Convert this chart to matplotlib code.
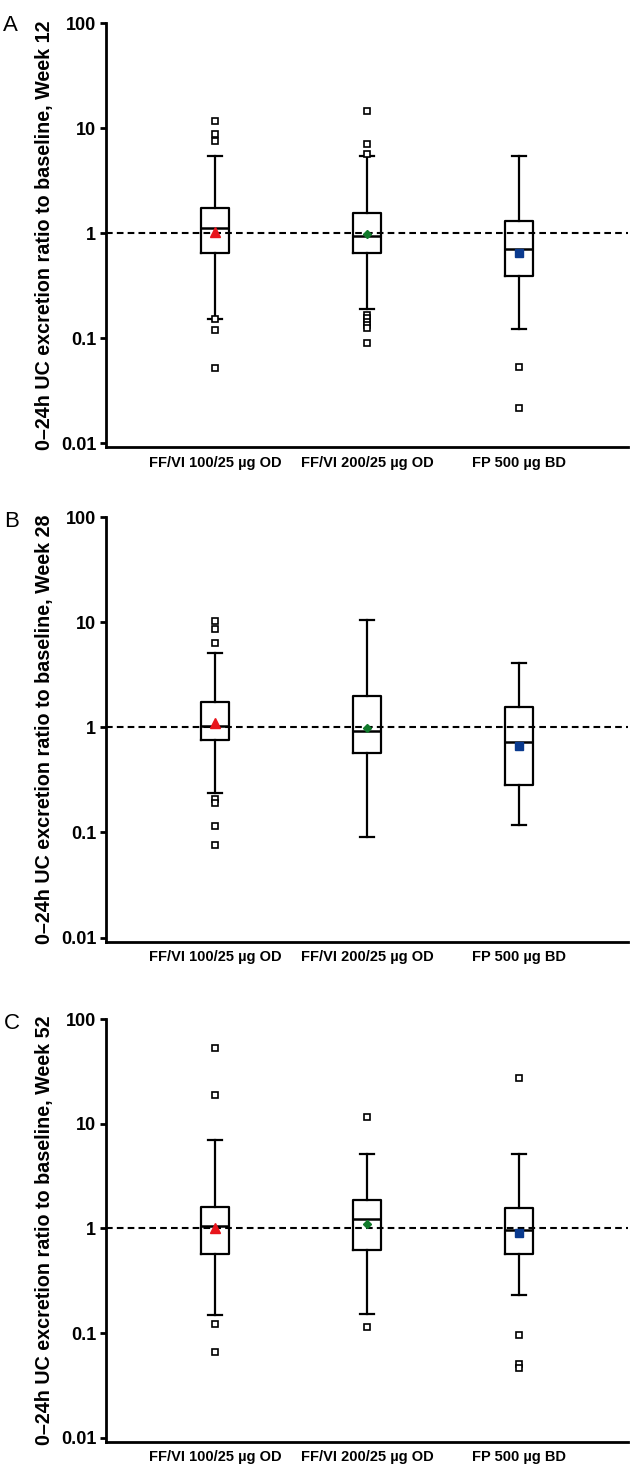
"""
0-24h urinary cortisol excretion ratio to baseline, box plots at weeks 12, 28, 52
"""
import matplotlib
matplotlib.use("Agg")
import matplotlib.pyplot as plt

#################### Data ##################
groups = ["FF/VI 100/25 µg OD", "FF/VI 200/25 µg OD", "FP 500 µg BD"]
weeks = ["Week 12", "Week 28", "Week 52"]
panel_letters = ["A", "B", "C"]

# week 12
wk12_lo = [0.152, 0.191, 0.122]
wk12_q1 = [0.653, 0.653, 0.395]
wk12_med = [1.12, 0.949, 0.705]
wk12_q3 = [1.75, 1.57, 1.30]
wk12_hi = [5.45, 5.45, 5.45]
wk12_mean = [1.035, 0.99, 0.653]
wk12_out = [
    [11.7, 8.88, 7.57, 0.152, 0.12, 0.0518],
    [14.6, 7.13, 5.73, 0.167, 0.155, 0.144, 0.134, 0.125, 0.0908],
    [0.053, 0.0215],
]

# week 28
wk28_lo = [0.239, 0.0906, 0.118]
wk28_q1 = [0.76, 0.568, 0.283]
wk28_med = [1.03, 0.933, 0.733]
wk28_q3 = [1.76, 2.0, 1.57]
wk28_hi = [5.09, 10.5, 4.09]
wk28_mean = [1.11, 0.98, 0.667]
wk28_out = [
    [10.2, 8.61, 6.42, 0.21, 0.192, 0.115, 0.0755],
    [],
    [],
]

# week 52
wk52_lo = [0.15, 0.153, 0.232]
wk52_q1 = [0.575, 0.624, 0.567]
wk52_med = [1.05, 1.22, 0.96]
wk52_q3 = [1.59, 1.88, 1.56]
wk52_hi = [6.99, 5.17, 5.17]
wk52_mean = [1.01, 1.11, 0.90]
wk52_out = [
    [53.1, 18.7, 0.122, 0.0659],
    [11.7, 0.115],
    [27.1, 0.0948, 0.0506, 0.0463],
]

mean_markers = ["^", "D", "s"]
mean_colors = ["#e8141b", "#117a2b", "#0a3a8e"]
mean_sizes = [6.5, 4.5, 5.5]

yticks = [0.01, 0.1, 1, 10, 100]
yticklabels = ["0.01", "0.1", "1", "10", "100"]

panels = [
    (wk12_lo, wk12_q1, wk12_med, wk12_q3, wk12_hi, wk12_mean, wk12_out),
    (wk28_lo, wk28_q1, wk28_med, wk28_q3, wk28_hi, wk28_mean, wk28_out),
    (wk52_lo, wk52_q1, wk52_med, wk52_q3, wk52_hi, wk52_mean, wk52_out),
]

#################### Plot ##################
plt.rcParams['font.family'] = ['Liberation Sans', 'DejaVu Sans']

W, H = 632, 1466
fig = plt.figure(figsize=(W / 100, H / 100), dpi=100)

# axes rectangles in pixels: (top of axes, bottom of axes)
ax_px = [(23.3, 447.3), (517.3, 941.5), (1019.0, 1441.7)]
letter_px = [(3, 15), (4, 511), (4, 1013)]
ax_left, ax_right = 106, 628

for k, (lo, q1, med, q3, hi, mn, out) in enumerate(panels):
    top, bot = ax_px[k]
    ax = fig.add_axes([ax_left / W, 1 - bot / H, (ax_right - ax_left) / W, (bot - top) / H])

    stats = []
    for i in range(len(groups)):
        stats.append(dict(
            med=med[i], q1=q1[i], q3=q3[i],
            whislo=lo[i], whishi=hi[i],
            fliers=out[i], label=groups[i],
        ))

    ax.bxp(
        stats,
        positions=[1, 2, 3],
        widths=0.19,
        capwidths=0.095,
        showfliers=True,
        boxprops=dict(color='black', linewidth=1.6),
        whiskerprops=dict(color='black', linewidth=1.6),
        capprops=dict(color='black', linewidth=1.6),
        medianprops=dict(color='black', linewidth=1.8),
        flierprops=dict(marker='s', markersize=4.2, markerfacecolor='white',
                        markeredgecolor='black', markeredgewidth=1.2),
        zorder=3,
    )

    for i in range(len(groups)):
        ax.plot(i + 1, mn[i], marker=mean_markers[i], color=mean_colors[i],
                markersize=mean_sizes[i], linestyle='none', zorder=5)

    ax.axhline(1, color='black', linewidth=1.5, linestyle=(0, (3.2, 2.0)), zorder=2)

    ax.set_yscale('log')
    ax.set_ylim(10 ** -2.038, 100)
    ax.set_xlim(0.283, 3.717)
    ax.set_yticks(yticks)
    ax.set_yticklabels(yticklabels)
    ax.minorticks_off()
    ax.set_xticks([1, 2, 3])
    ax.set_xticklabels(groups)

    for side in ['top', 'right']:
        ax.spines[side].set_visible(False)
    for side in ['left', 'bottom']:
        ax.spines[side].set_linewidth(2.0)

    ax.tick_params(axis='y', which='major', direction='out', length=4, width=2.0,
                   pad=3, labelsize=13)
    ax.tick_params(axis='x', length=0, pad=6, labelsize=10.5)
    for lab in ax.get_yticklabels() + ax.get_xticklabels():
        lab.set_fontweight('bold')

    ax.set_ylabel(f"0\u201324h UC excretion ratio to baseline, {weeks[k]}",
                  fontsize=14.2, fontweight='bold')
    ax.yaxis.set_label_coords((54 - ax_left) / (ax_right - ax_left), 0.5)

    lx, ly = letter_px[k]
    fig.text(lx / W, 1 - ly / H, panel_letters[k], fontsize=16,
             ha='left', va='top')

fig.savefig('out.png', dpi=100, facecolor='w')
